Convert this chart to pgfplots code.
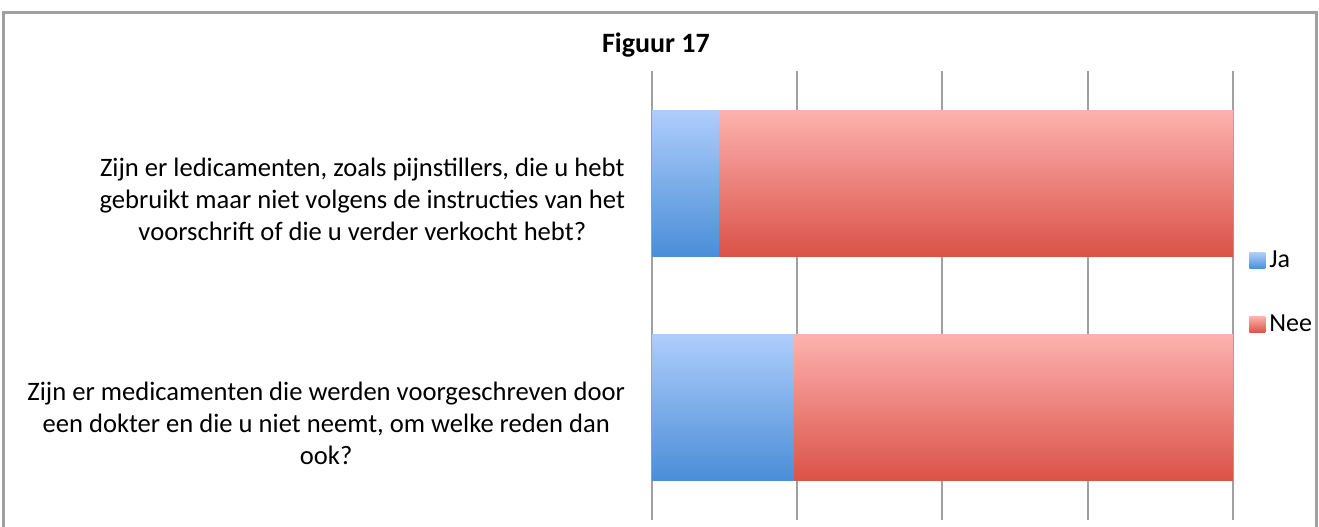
\documentclass[border=0pt]{standalone}
\usepackage{fontspec}
\setmainfont{Carlito}
\usepackage{pgfplots}
\pgfplotsset{compat=1.18}

\definecolor{jatop}{HTML}{AECDFB}
\definecolor{jabot}{HTML}{4A8ED8}
\definecolor{neetop}{HTML}{FDB2AF}
\definecolor{neebot}{HTML}{DA5247}
\definecolor{gridgray}{HTML}{A0A0A0}

% shared geometry for the two overlaid axes (one per bar, so each bar gets its own gradient)
\pgfplotsset{
    baseax/.style={
        at={(326pt,3pt)}, anchor=south west,
        scale only axis,
        width=290.5pt, height=224.5pt,
        xbar stacked,
        bar width=73pt,
        xmin=0, xmax=100,
        ymin=-0.5, ymax=1.5,
        xtick={0,25,50,75,100},
        xticklabels={},
        axis line style={draw=none},
        tick style={draw=none},
    },
    jastyle/.style={draw=none, top color=jatop, bottom color=jabot},
    neestyle/.style={draw=none, top color=neetop, bottom color=neebot},
}

\begin{document}
\begin{tikzpicture}
\useasboundingbox (0pt,0pt) rectangle (659.5pt,263pt);
% frame
\draw[gridgray, line width=1.5pt] (1.5pt,-2pt) -- (1.5pt,256.5pt) -- (658pt,256.5pt) -- (658pt,-2pt);
\node[font={\fontsize{14}{17}\selectfont\bfseries}] at (328pt,240.5pt) {Figuur 17};
\begin{axis}[
    baseax,
    ytick={0,1},
    yticklabels={
        {Zijn er medicamenten die werden voorgeschreven door\\een dokter en die u niet neemt, om welke reden dan\\ook?},
        {Zijn er ledicamenten, zoals pijnstillers, die u hebt\\gebruikt maar niet volgens de instructies van het\\voorschrift of die u verder verkocht hebt?}
    },
    yticklabel style={align=center, font={\fontsize{13.3}{16}\selectfont}, anchor=east, yshift=-8pt, xshift=-10pt},
    xmajorgrids,
    grid style={gridgray, line width=1pt},
    legend image code/.code={\path[#1, draw=none] (0pt,-4pt) rectangle (8pt,4pt);},
    legend cell align=left,
    legend style={at={(1.017,0.618)}, anchor=north west, draw=none, fill=none,
        font={\fontsize{13}{15}\selectfont}, row sep=18pt,
        /tikz/every even column/.append style={column sep=2pt}},
]
% bottom question
\addplot[jastyle] coordinates {(24.4,0)};
\addplot[neestyle] coordinates {(75.6,0)};
\legend{Ja, Nee}
\end{axis}
\begin{axis}[baseax, ytick=\empty]
% top question
\addplot[jastyle] coordinates {(11.5,1)};
\addplot[neestyle] coordinates {(88.5,1)};
\end{axis}
\end{tikzpicture}
\end{document}
